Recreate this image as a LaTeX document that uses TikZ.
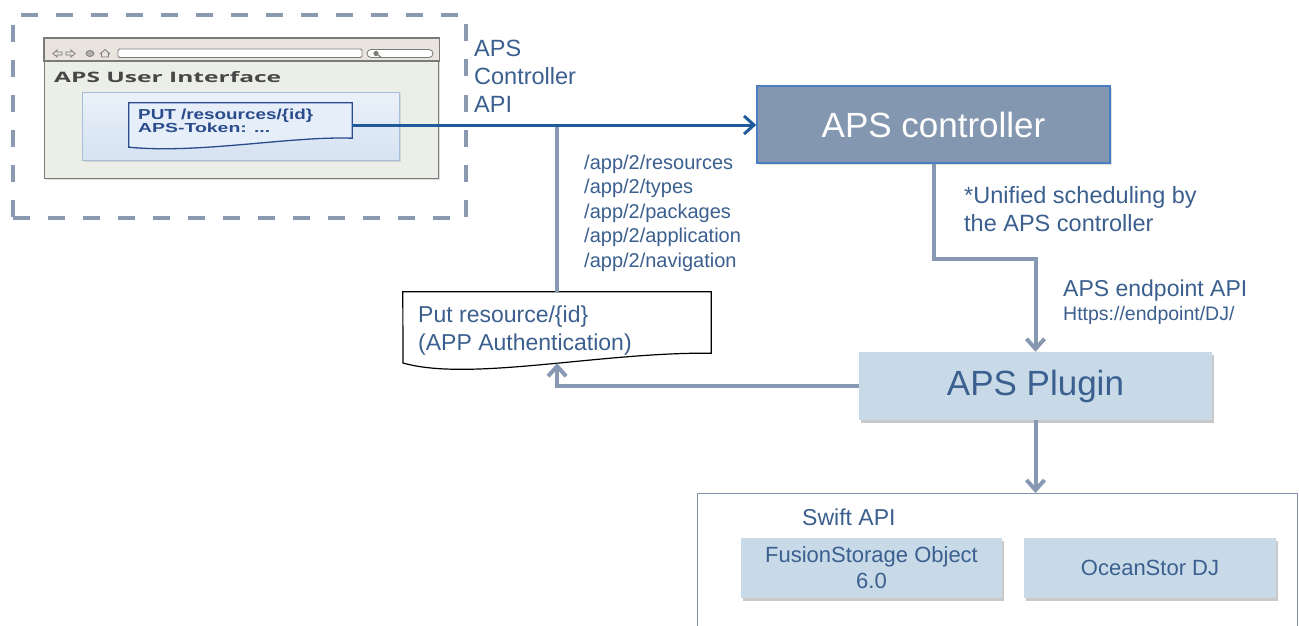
\documentclass[tikz,border=0pt]{standalone}
\usepackage{fontspec}
\setmainfont{Liberation Sans}
\newfontfamily\uifont{Open Sans}
\usetikzlibrary{arrows.meta,shadows,calc}

\definecolor{txtblue}{HTML}{3B5F8E}
\definecolor{connGray}{HTML}{8799B2}
\definecolor{ctrlFill}{HTML}{8497B0}
\definecolor{ctrlEdge}{HTML}{4A7EC2}
\definecolor{plugFill}{HTML}{C8DAE8}
\definecolor{apiBlue}{HTML}{1F5A9B}
\definecolor{dashGray}{HTML}{8A9AB0}
\definecolor{storeEdge}{HTML}{7F93AD}
\definecolor{winFrame}{HTML}{7A7A78}
\definecolor{winBody}{HTML}{ECEEE8}
\definecolor{winBar}{HTML}{EAE4DE}
\definecolor{docInk}{HTML}{2A4B8C}
\definecolor{panelTop}{HTML}{EAF1FA}
\definecolor{panelBot}{HTML}{D5E2F1}
\definecolor{panelEdge}{HTML}{A7BDD8}
\definecolor{docFill}{HTML}{E5EEF9}

\tikzset{
  conn/.style={draw=connGray, line width=4pt},
  gtip/.style={-{Straight Barb[length=10pt,width=18pt]}},
  apiline/.style={draw=apiBlue, line width=3pt, -{Straight Barb[length=10pt,width=18pt]}},
  lbl/.style={text=txtblue, inner sep=0pt, align=left},
  boxshadow/.style={drop shadow={shadow xshift=1.5pt, shadow yshift=-2.5pt, opacity=0.35, fill=black!60}},
  lightbox/.style={fill=plugFill, draw=none, inner sep=0pt, text=txtblue, align=center, boxshadow},
  icon/.style={draw=winFrame, line width=0.8pt},
}

\begin{document}
\begin{tikzpicture}[x=1pt, y=-1pt]
\clip (0,0) rectangle (1299,626);
\fill[white] (0,0) rectangle (1299,626);

% ---------- user interface mock-up ----------
\node[draw=dashGray, line width=4pt, dash pattern=on 17pt off 18pt,
      minimum width=453.5pt, minimum height=203pt, inner sep=0pt, anchor=north west]
      (uiframe) at (10.5,13) {};

\node[draw=winFrame, fill=winBody, line width=1.2pt, minimum width=394pt,
      minimum height=140pt, inner sep=0pt, anchor=north west,
      drop shadow={shadow xshift=1.5pt, shadow yshift=-1.5pt, opacity=0.25}]
      (browser) at (44,38) {};
\filldraw[fill=winBar, draw=winFrame, line width=1.2pt]
  (browser.north west) rectangle ($(browser.north east)+(0,23)$);
% address and search fields
\draw[icon, fill=white, rounded corners=1.5pt] (118,49) rectangle (362,57.5);
\draw[icon, fill=white, rounded corners=4pt] (367,49.5) rectangle (433,57.5);
\fill[winFrame] (376,53.5) circle (2.6pt);
\draw[winFrame, line width=1pt] (378,55) -- (381,57);
% navigation icons
\draw[icon] (53,53.5) -- (57,50) -- (57,52) -- (62,52) -- (62,55) -- (57,55) -- (57,57) -- cycle;
\draw[icon] (75,53.5) -- (71,50) -- (71,52) -- (66,52) -- (66,55) -- (71,55) -- (71,57) -- cycle;
\filldraw[icon, fill=winFrame!60] (90,53.5) ellipse (4pt and 3pt);
\draw[icon] (100,54) -- (105,49.5) -- (110,54) (101.5,53) -- (101.5,57) -- (108.5,57) -- (108.5,53);

\node[anchor=base west, inner sep=0pt, text=black!72] (uititle) at (54,82)
  {\resizebox{227pt}{11pt}{\uifont\bfseries APS User Interface}};

\node[draw=panelEdge, line width=1pt, top color=panelTop, bottom color=panelBot,
      minimum width=317pt, minimum height=68pt, inner sep=0pt, anchor=north west,
      drop shadow={shadow xshift=1pt, shadow yshift=-1pt, opacity=0.2}]
      (panel) at (82,92) {};

\node[minimum width=223pt, minimum height=44pt, inner sep=0pt] (doc) at (240.5,125) {};
\filldraw[fill=docFill, draw=docInk, line width=1.3pt]
  (doc.north west) -- (doc.north east) -- ($(doc.south east)+(0,-9)$)
  .. controls (290,136) and (200,154) .. (doc.south west) -- cycle;
\node[anchor=base west, inner sep=0pt, text=docInk] (docl1) at (138,119)
  {\resizebox{175pt}{10.5pt}{\bfseries PUT /resources/\{id\}}};
\node[anchor=base west, inner sep=0pt, text=docInk] (docl2) at (138,132)
  {\resizebox{132pt}{9.5pt}{\bfseries APS-Token: ...}};

% ---------- controller ----------
\node[fill=ctrlFill, draw=ctrlEdge, line width=1.5pt, minimum width=353pt,
      minimum height=77pt, inner sep=0pt, text=white,
      font=\fontsize{35}{40}\selectfont,
      drop shadow={shadow xshift=1.5pt, shadow yshift=-2pt, opacity=0.25}]
      (ctrl) at (933.5,124.5) {APS controller};

\node[lbl, anchor=north west, font=\fontsize{23.5}{28}\selectfont] (apilbl) at (474,40)
  {APS\\Controller\\API};

\node[lbl, anchor=north west, font=\fontsize{20}{24.5}\selectfont] (paths) at (584,154.5)
  {/app/2/resources\\/app/2/types\\/app/2/packages\\/app/2/application\\/app/2/navigation};

\node[lbl, anchor=north west, font=\fontsize{23.5}{28.5}\selectfont] (sched) at (964,186)
  {*Unified scheduling by\\the APS controller};

\node[lbl, anchor=north west, font=\fontsize{23}{28}\selectfont] (epapi) at (1063,280)
  {APS endpoint API};
\node[lbl, anchor=north west, font=\fontsize{19.5}{24}\selectfont] (epurl) at (1063,306.5)
  {Https://endpoint/DJ/};

% ---------- application request box ----------
\node[minimum width=308pt, minimum height=61pt, inner sep=0pt] (put) at (557,322.5) {};
\filldraw[fill=white, draw=black, line width=1.2pt]
  (put.south east) .. controls (600,352) and (470,382) .. coordinate[pos=0.45] (putbot) (403,363)
  -- (put.north west) -- (put.north east) -- cycle;
\node[lbl, anchor=north west, font=\fontsize{23}{28.5}\selectfont] (putlbl) at (418,305.5)
  {Put resource/\{id\}\\(APP Authentication)};

% ---------- plugin and storage ----------
\node[lightbox, minimum width=353pt, minimum height=68pt,
      font=\fontsize{35}{40}\selectfont] (plugin) at (1035.5,386) {APS Plugin};

\node[draw=storeEdge, line width=1.2pt, minimum width=600pt, minimum height=170pt,
      inner sep=0pt, anchor=north west] (store) at (697,493) {};
\node[lbl, anchor=north west, font=\fontsize{23}{28}\selectfont] (swift) at (802,508.5)
  {Swift API};
\node[lightbox, minimum width=261pt, minimum height=60pt,
      font=\fontsize{22}{26}\selectfont] (fusion) at (871.5,568)
  {FusionStorage Object\\6.0};
\node[lightbox, minimum width=252pt, minimum height=60pt,
      font=\fontsize{22}{26}\selectfont] (ocean) at (1150,568) {OceanStor DJ};

% ---------- connectors ----------
\draw[conn] (put.north) -- (put.north |- doc.east);
\draw[apiline] (doc.east) -- (doc.east -| ctrl.west);
\draw[conn, gtip] (ctrl.south) -- ++(0,95) -| (plugin.north);
\draw[conn, gtip] (plugin.west) -| (putbot);
\draw[conn, gtip] (plugin.south) -- (plugin.south |- store.north);
\end{tikzpicture}
\end{document}
